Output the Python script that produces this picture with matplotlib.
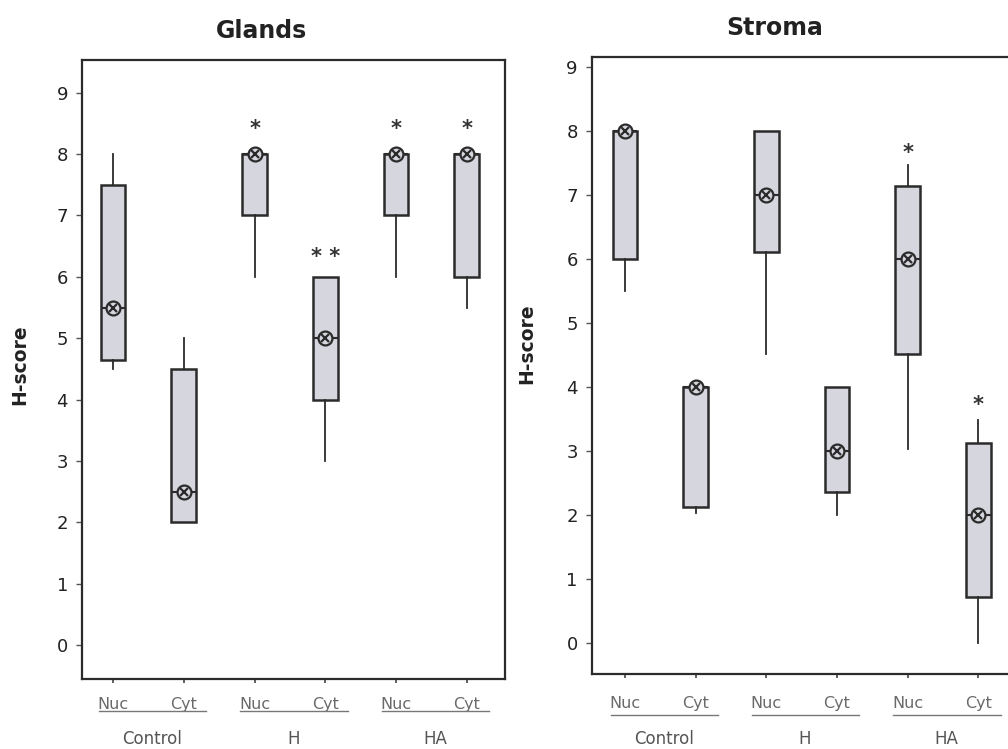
import matplotlib
matplotlib.use("Agg")
import matplotlib.pyplot as plt
import matplotlib.transforms as mtransforms

plt.rcParams["font.family"] = ["DejaVu Sans"]

# categories
positions = [1, 2, 3, 4, 5, 6]
tick_labels = ["Nuc", "Cyt", "Nuc", "Cyt", "Nuc", "Cyt"]
groups = ["Control", "H", "HA"]

# Glands
gl_whislo = [4.5, 2.0, 6.0, 3.0, 6.0, 5.5]
gl_q1 = [4.65, 2.0, 7.0, 4.0, 7.0, 6.0]
gl_med = [5.5, 2.5, 8.0, 5.0, 8.0, 8.0]
gl_q3 = [7.5, 4.5, 8.0, 6.0, 8.0, 8.0]
gl_whishi = [8.0, 5.0, 8.0, 6.0, 8.0, 8.0]
gl_stars = ["", "", "*", "* *", "*", "*"]
gl_star_y = [0, 0, 8.4, 6.32, 8.4, 8.4]

# Stroma
st_whislo = [5.5, 2.03, 4.52, 2.0, 3.03, 0.0]
st_q1 = [6.0, 2.12, 6.1, 2.36, 4.52, 0.72]
st_med = [8.0, 4.0, 7.0, 3.0, 6.0, 2.0]
st_q3 = [8.0, 4.0, 8.0, 4.0, 7.13, 3.12]
st_whishi = [8.0, 4.0, 8.0, 4.0, 7.47, 3.48]
st_stars = ["", "", "", "", "*", "*"]
st_star_y = [0, 0, 0, 0, 7.65, 3.72]

BOX_FACE = "#d6d6de"
EDGE = "#2b2b2b"


def draw_panel(ax, title, whislo, q1, med, q3, whishi, stars, star_y, ylim, xlim,
               lab_pad=10, line_y=-0.052, group_y=-0.083):
    stats = []
    for i in range(len(positions)):
        stats.append(dict(med=med[i], q1=q1[i], q3=q3[i],
                          whislo=whislo[i], whishi=whishi[i], fliers=[]))
    ax.bxp(stats, positions=positions, widths=0.35, patch_artist=True,
           showcaps=False, showfliers=False,
           boxprops=dict(facecolor=BOX_FACE, edgecolor=EDGE, linewidth=1.8),
           whiskerprops=dict(color=EDGE, linewidth=1.3),
           medianprops=dict(color=EDGE, linewidth=1.5))
    # circled-cross median symbol
    ax.plot(positions, med, ls="none", marker="o", ms=10, mfc=BOX_FACE,
            mec=EDGE, mew=1.6, zorder=5)
    ax.plot(positions, med, ls="none", marker="x", ms=5.5, mec=EDGE,
            mew=1.6, zorder=6)

    for p, s, y in zip(positions, stars, star_y):
        if s:
            ax.text(p, y, s, ha="center", va="center", fontsize=15,
                    fontweight="bold", color="#333333")

    ax.set_xlim(*xlim)
    ax.set_ylim(*ylim)
    ax.set_yticks(range(0, 10))
    ax.tick_params(axis="y", labelsize=13, labelcolor="#222222",
                   length=4, width=1, color="#555555", pad=6)
    ax.set_xticks(positions)
    ax.set_xticklabels(tick_labels)
    ax.tick_params(axis="x", labelsize=11.5, labelcolor="#6a6a6a",
                   length=3, width=1.2, color="#444444", pad=lab_pad)
    for sp in ax.spines.values():
        sp.set_linewidth(1.6)
        sp.set_color(EDGE)
    ax.set_ylabel("H-score", fontsize=13.5, fontweight="bold", color="#222222")
    ax.set_title(title, fontsize=17, fontweight="bold", color="#222222", pad=16)

    # underline under each Nuc/Cyt pair and the group name
    trans = mtransforms.blended_transform_factory(ax.transData, ax.transAxes)
    for g, name in enumerate(groups):
        a, b = positions[2 * g], positions[2 * g + 1]
        ax.plot([a - 0.2, b + 0.32], [line_y, line_y], transform=trans,
                color="#777777", lw=1.0, clip_on=False)
        ax.text((a + b) / 2 + 0.05, group_y, name, transform=trans,
                ha="center", va="top", fontsize=12, color="#555555")


fig = plt.figure(figsize=(10.08, 7.49), dpi=100)
ax1 = fig.add_axes([0.0813, 0.0935, 0.4197, 0.8263])
ax2 = fig.add_axes([0.587, 0.1001, 0.422, 0.8238])

draw_panel(ax1, "Glands", gl_whislo, gl_q1, gl_med, gl_q3, gl_whishi,
           gl_stars, gl_star_y, (-0.55, 9.53), (0.56, 6.54))
draw_panel(ax2, "Stroma", st_whislo, st_q1, st_med, st_q3, st_whishi,
           st_stars, st_star_y, (-0.48, 9.15), (0.53, 6.55),
           lab_pad=12.5, line_y=-0.066, group_y=-0.09)
ax1.yaxis.set_label_coords(-0.125, 0.507)
ax2.yaxis.set_label_coords(-0.13, 0.535)
ax1.title.set_position((0.425, 1.0))
ax2.title.set_position((0.43, 1.0))

fig.savefig("out.png", dpi=100)
